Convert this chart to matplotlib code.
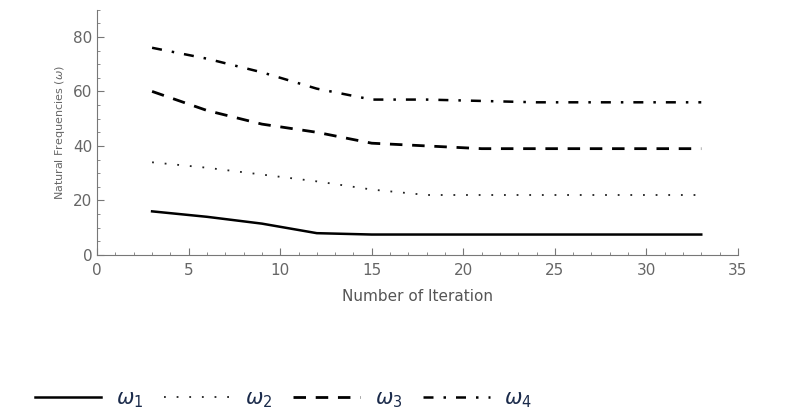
import numpy as np
import matplotlib.pyplot as plt
from matplotlib.ticker import MultipleLocator

iterations = [3, 6, 9, 12, 15, 18, 21, 24, 27, 30, 33]
omega_1 = [16, 14, 11.5, 8, 7.5, 7.5, 7.5, 7.5, 7.5, 7.5, 7.5]
omega_2 = [34, 32, 29.5, 27, 24, 22, 22, 22, 22, 22, 22]
omega_3 = [60, 53, 48, 45, 41, 40, 39, 39, 39, 39, 39]
omega_4 = [76, 72, 67, 61, 57, 57, 56.5, 56, 56, 56, 56]
labels = [r"$\omega_1$", r"$\omega_2$", r"$\omega_3$", r"$\omega_4$"]

fig = plt.figure(figsize=(7.9, 4.18), dpi=100)
ax = fig.add_axes([0.123, 0.39, 0.811, 0.587])

h1, = ax.plot(iterations, omega_1, color="black", lw=1.8, ls="-")
h2, = ax.plot(iterations, omega_2, color="#222222", lw=1.3, ls=(0, (1, 6)))
h3, = ax.plot(iterations, omega_3, color="black", lw=2.0, ls=(0, (4.5, 3.5)))
h4, = ax.plot(iterations, omega_4, color="black", lw=1.8, ls=(0, (4, 4, 1, 4)))

ax.set_xlim(0, 35)
ax.set_ylim(0, 90)
ax.set_xticks([0, 5, 10, 15, 20, 25, 30, 35])
ax.set_yticks([0, 20, 40, 60, 80])
ax.xaxis.set_minor_locator(MultipleLocator(1))
ax.yaxis.set_minor_locator(MultipleLocator(5))
ax.tick_params(which="both", direction="in", colors="#777777", labelcolor="#666666", labelsize=11)
ax.tick_params(which="major", length=5)
ax.tick_params(which="minor", length=2.5)
ax.tick_params(axis="x", pad=6)

for s in ["top", "right"]:
    ax.spines[s].set_visible(False)
for s in ["left", "bottom"]:
    ax.spines[s].set_color("#777777")

ax.set_xlabel("Number of Iteration", color="#555555", fontsize=11, labelpad=8)
ax.set_ylabel(r"Natural Frequencies ($\omega$)", color="#666666", fontsize=8)

fig.legend([h1, h2, h3, h4], labels, loc="center left", bbox_to_anchor=(0.02, 0.045),
           ncol=4, frameon=False, fontsize=15, handlelength=3.2, handletextpad=0.7,
           columnspacing=1.0, labelcolor="#1a2a4a")

fig.savefig("out.png", dpi=100)
